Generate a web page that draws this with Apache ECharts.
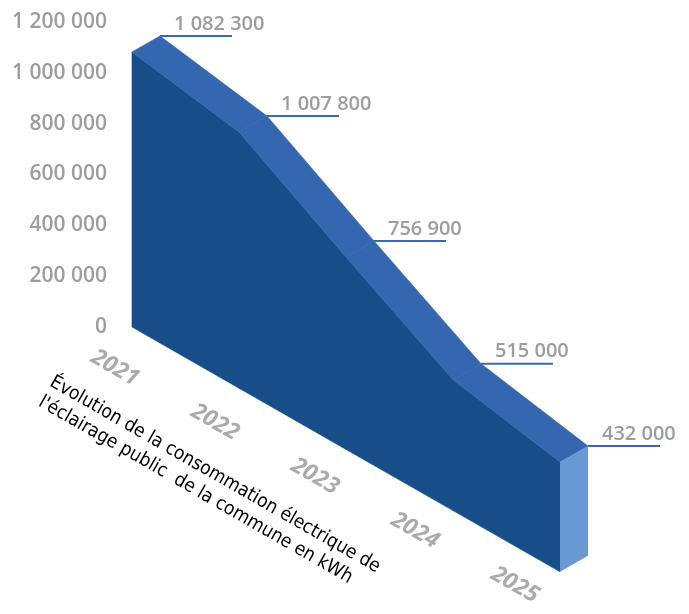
<!DOCTYPE html>
<html>
<head>
<meta charset="utf-8">
<script src="https://cdn.jsdelivr.net/npm/echarts@6/dist/echarts.min.js"></script>
<style>html,body{margin:0;padding:0;background:#fff}#c{width:689px;height:614px}</style>
</head>
<body>
<div id="c"></div>
<script>
const years = ['2021', '2022', '2023', '2024', '2025'];
const values = [1082300, 1007800, 756900, 515000, 432000];
const yMin = 0, yMax = 1200000, yStep = 200000;
const titleLines = ['Évolution de la consommation électrique de', 'l\'éclairage public  de la commune en kWh'];

const SHEAR = 0.572;        // oblique projection of the category axis
const DEPTH = [28, -16];    // extrusion depth in pixels
const C_FRONT = '#174d88', C_TOP = '#3566b0', C_END = '#6899d3', C_LINE = '#3a68b2';
const C_TEXT = '#9d9d9d';
const NUM_FONT = '"Open Sans", Roboto, sans-serif';

function fmt(v) { return String(v).replace(/\B(?=(\d{3})+(?!\d))/g, ' '); }
function proj(api, i, v) {
  const c = api.coord([i, v]);
  const x0 = api.coord([0, 0])[0];
  return [c[0], c[1] + (c[0] - x0) * SHEAR];
}
function add(p, d) { return [p[0] + d[0], p[1] + d[1]]; }

const chart = echarts.init(document.getElementById('c'), null, {renderer: 'canvas'});
chart.setOption({
  animation: false,
  grid: {left: 132, right: 129, top: 22, bottom: 287},
  xAxis: {type: 'category', data: years, boundaryGap: false, show: false},
  yAxis: {
    type: 'value', min: yMin, max: yMax, interval: yStep,
    axisLine: {show: false}, axisTick: {show: false}, splitLine: {show: false},
    axisLabel: {formatter: fmt, color: C_TEXT, fontSize: 21, fontWeight: 600, fontFamily: NUM_FONT, margin: 25}
  },
  series: [
    {
      type: 'custom', z: 2,
      data: values.map((v, i) => [i, v]),
      renderItem: function (params, api) {
        const i = params.dataIndex, n = values.length;
        const children = [];
        const b0 = proj(api, i, 0), t0 = proj(api, i, values[i]);
        if (i < n - 1) {
          const b1 = proj(api, i + 1, 0), t1 = proj(api, i + 1, values[i + 1]);
          children.push({type: 'polygon', shape: {points: [b0, t0, t1, b1]}, style: {fill: C_FRONT, stroke: C_FRONT, lineWidth: 0.6}});
          children.push({type: 'polygon', shape: {points: [t0, add(t0, DEPTH), add(t1, DEPTH), t1]}, style: {fill: C_TOP, stroke: C_TOP, lineWidth: 0.6}});
        } else {
          children.push({type: 'polygon', shape: {points: [b0, t0, add(t0, DEPTH), add(b0, DEPTH)]}, style: {fill: C_END}});
        }
        return {type: 'group', children: children};
      }
    },
    {
      type: 'custom', z: 5,
      data: values.map((v, i) => [i, v]),
      renderItem: function (params, api) {
        const i = params.dataIndex;
        const v = values[i];
        const p = add(proj(api, i, v), DEPTH);
        const b = proj(api, i, 0);
        return {type: 'group', children: [
          {type: 'line', shape: {x1: p[0], y1: p[1], x2: p[0] + 72, y2: p[1]}, style: {stroke: C_LINE, lineWidth: 2}},
          {type: 'text', style: {text: fmt(v), x: p[0] + 14, y: p[1] - 2, fill: C_TEXT, font: '600 20px ' + NUM_FONT, align: 'left', verticalAlign: 'bottom', textAlign: 'left', textVerticalAlign: 'bottom'}},
          {type: 'text', x: b[0] - 17 - 7 * i, y: b[1] + 41 - 7 * i, rotation: -0.52,
           style: {text: years[i], x: 0, y: 0, fill: '#ababab', font: 'italic bold 23px ' + NUM_FONT, align: 'center', verticalAlign: 'middle', textAlign: 'center', textVerticalAlign: 'middle'}}
        ]};
      }
    }
  ],
  graphic: [
    {type: 'text', x: 57, y: 371, rotation: -0.52,
     style: {text: titleLines.join('\n'), fill: '#000', font: '19px "Liberation Sans Narrow", "DejaVu Sans Condensed", sans-serif', lineHeight: 23,
             textAlign: 'left', textVerticalAlign: 'top', align: 'left', verticalAlign: 'top'}}
  ]
});
</script>
</body>
</html>
